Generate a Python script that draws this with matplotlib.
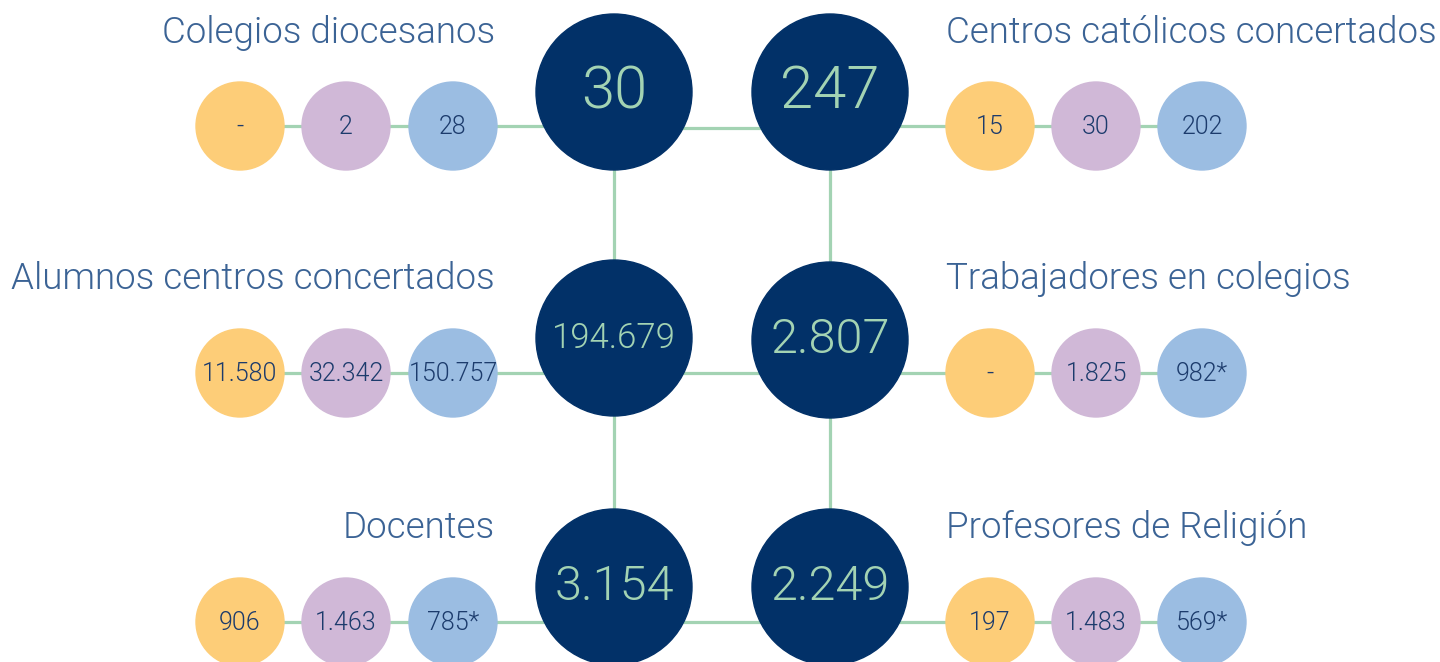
import matplotlib
matplotlib.use('Agg')
import matplotlib.pyplot as plt
from matplotlib.patches import Circle

# data
titles = ['Colegios diocesanos', 'Centros católicos concertados',
          'Alumnos centros concertados', 'Trabajadores en colegios',
          'Docentes', 'Profesores de Religión']
totals = ['30', '247', '194.679', '2.807', '3.154', '2.249']
yellow_vals = ['-', '15', '11.580', '-', '906', '197']
purple_vals = ['2', '30', '32.342', '1.825', '1.463', '1.483']
blue_vals = ['28', '202', '150.757', '982*', '785*', '569*']

NAVY = '#023168'
GREEN = '#a3d3b3'
TITLE_C = '#3b6395'
NUM_C = '#1c3b6c'
small_colors = ['#fdcd78', '#d0b8d7', '#9bbde2']

plt.rcParams['font.family'] = ['Roboto', 'DejaVu Sans']

fig = plt.figure(figsize=(14.4, 6.62), dpi=100)
ax = fig.add_axes([0, 0, 1, 1])
ax.set_xlim(0, 1440)
ax.set_ylim(662, 0)
ax.set_aspect('equal')
ax.axis('off')

big_x = [614, 830]
big_y = [92, 338, 587]
small_y = [126, 373, 622]
left_x = [240, 346, 453]
right_x = [990, 1096, 1202]

# vertical connectors
for bx in big_x:
    ax.plot([bx, bx], [big_y[0], big_y[2]], color=GREEN, lw=2.3, zorder=1)

for row in range(3):
    sy = small_y[row]
    by = big_y[row]
    # horizontal connectors
    mid_y = sy + 2 if row == 0 else sy
    ax.plot([left_x[0], big_x[0]], [sy, sy], color=GREEN, lw=2.3, zorder=1)
    ax.plot([big_x[0], big_x[1]], [mid_y, mid_y], color=GREEN, lw=2.3, zorder=1)
    ax.plot([big_x[1], right_x[-1]], [sy, sy], color=GREEN, lw=2.3, zorder=1)

    for side in range(2):
        i = row * 2 + side
        bx = big_x[side]
        by_i = by + (2 if (row == 1 and side == 1) else 0)
        ax.add_patch(Circle((bx, by_i), 78, color=NAVY, zorder=3))
        n = len(totals[i])
        fs = 43 if n <= 3 else (35 if n <= 5 else 25)
        ax.text(bx, by_i, totals[i], color=GREEN, fontsize=fs, fontweight=300,
                ha='center', va='center', zorder=4)

        xs = left_x if side == 0 else right_x
        vals = [yellow_vals[i], purple_vals[i], blue_vals[i]]
        for k in range(3):
            ax.add_patch(Circle((xs[k], sy), 44, color=small_colors[k], zorder=3))
            ax.text(xs[k], sy + 1, vals[k], color=NUM_C, fontsize=18, fontweight=300,
                    ha='center', va='center', zorder=4)

        if side == 0:
            ax.text(495, by - 49, titles[i], color=TITLE_C, fontsize=26.5, fontweight=300,
                    ha='right', va='baseline')
        else:
            ax.text(946, by - 49, titles[i], color=TITLE_C, fontsize=26.5, fontweight=300,
                    ha='left', va='baseline')

fig.savefig('out.png', dpi=100, facecolor='white')
